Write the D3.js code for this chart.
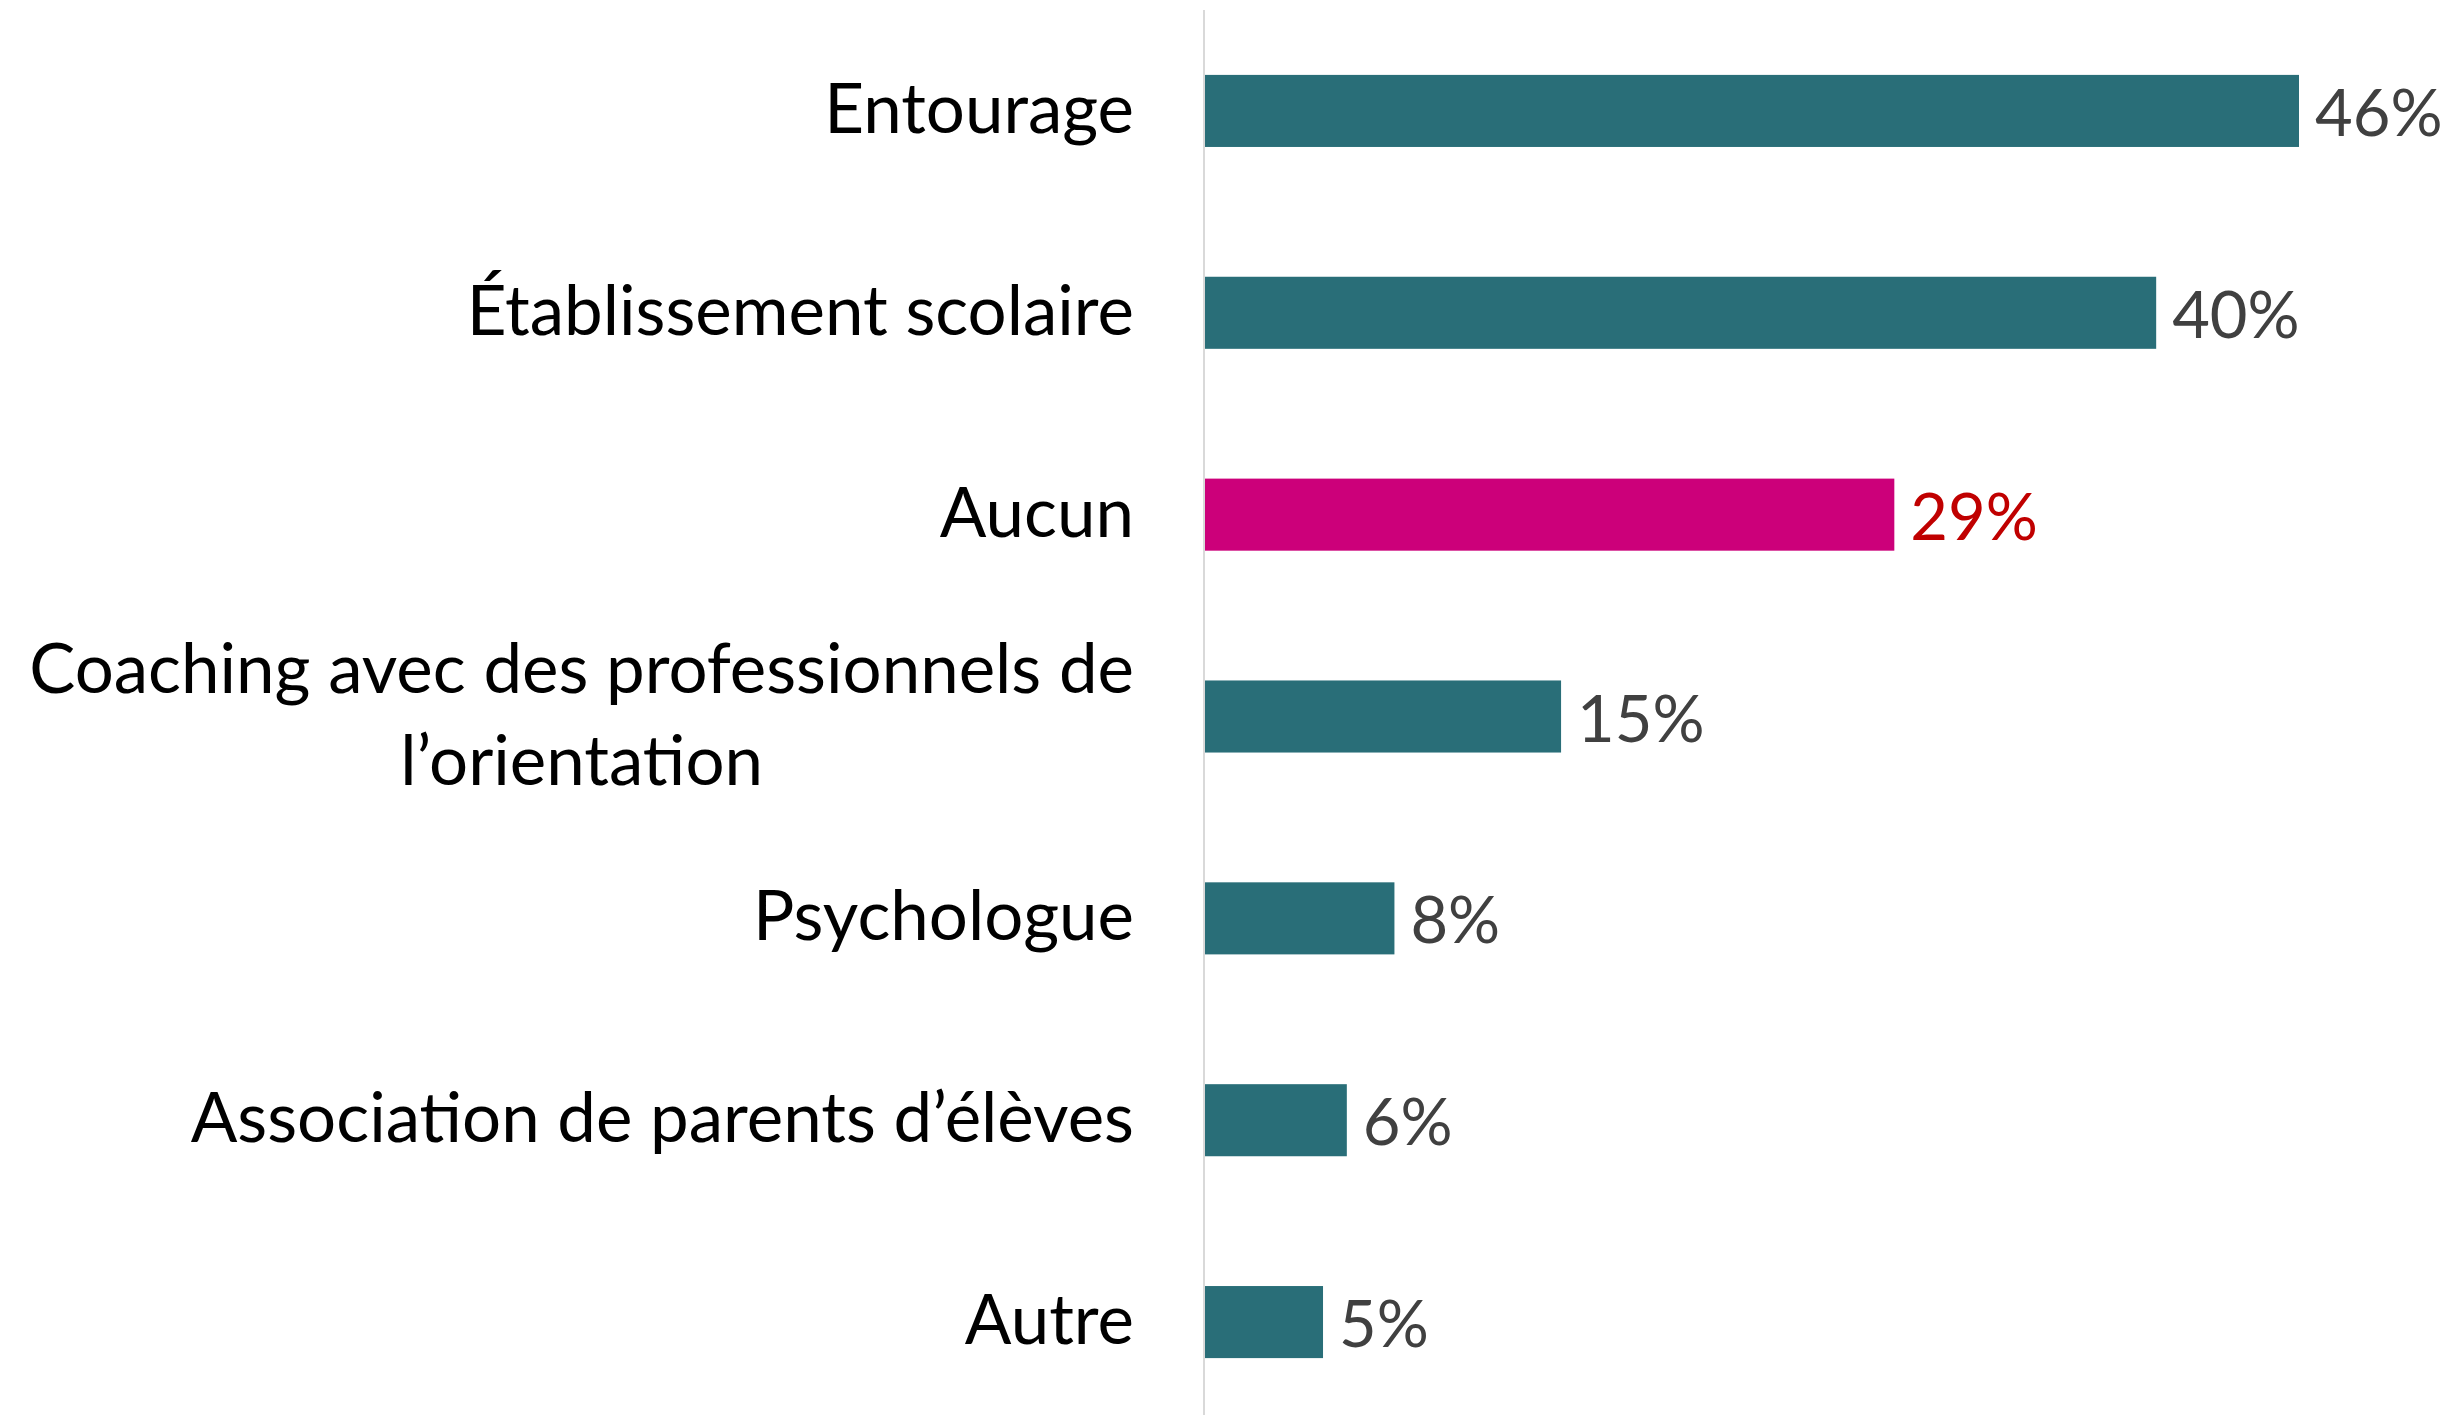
<!DOCTYPE html>
<html>
<head>
<meta charset="utf-8">
<script src="https://cdn.jsdelivr.net/npm/d3@7"></script>
<style>
	body { margin: 0; background: #fff; }
	svg text { font-family: Lato, "Open Sans", sans-serif; }
</style>
</head>
<body>
<div id="chart"></div>
<script>
// Chart data
var categories = ['Entourage', 'Établissement scolaire', 'Aucun', 'Coaching avec des professionnels de\nl’orientation', 'Psychologue', 'Association de parents d’élèves', 'Autre'];
var values = [46, 40, 29, 15, 8, 6, 5];
var highlighted = ['Aucun'];

var width = 2454, height = 1415;
var axisX = 1204, labelRight = 1134;

var rows = categories.map((c, i) => ({ name: c, value: values[i] }));

var svg = d3.select('#chart').append('svg')
	.attr('width', width).attr('height', height);

// Scales
var x = d3.scaleLinear().domain([0, 46]).range([axisX, 2299]);
var y = d3.scaleBand().domain(categories).range([10, 1423]).paddingInner(0.643).paddingOuter(0.3215);

// Vertical axis line
svg.append('line')
	.attr('x1', axisX).attr('x2', axisX).attr('y1', 10).attr('y2', height)
	.style('stroke', '#d9d9d9').style('stroke-width', 2);

// Bars
svg.selectAll('rect.bar').data(rows).enter().append('rect')
	.attr('class', 'bar')
	.attr('x', x(0) + 1).attr('y', d => y(d.name))
	.attr('width', d => x(d.value) - x(0) - 1).attr('height', y.bandwidth())
	.style('fill', d => highlighted.includes(d.name) ? '#cc007a' : '#296e78');

// Value labels
svg.selectAll('text.value').data(rows).enter().append('text')
	.attr('class', 'value')
	.attr('x', d => x(d.value) + 16).attr('y', d => y(d.name) + y.bandwidth() / 2 + 25)
	.style('font-size', '65px')
	.style('fill', d => highlighted.includes(d.name) ? '#c00000' : '#404040')
	.text(d => d.value + '%');

// Category labels (multi-line ones are centred in their block)
svg.selectAll('g.label').data(rows).enter().append('g')
	.attr('class', 'label')
	.each(function(d) {
		var g = d3.select(this);
		var lines = d.name.split('\n');
		var cy = y(d.name) + y.bandwidth() / 2;
		var texts = lines.map((l, i) => g.append('text')
			.attr('y', cy + 22 + (i - (lines.length - 1) / 2) * 92)
			.style('font-size', '69px').style('fill', '#000')
			.text(l));
		if (lines.length == 1) {
			texts[0].attr('x', labelRight).attr('text-anchor', 'end');
		} else {
			var w = d3.max(texts.map(t => t.node().getComputedTextLength()));
			texts.forEach(t => t.attr('x', labelRight - w / 2).attr('text-anchor', 'middle'));
		}
	});
</script>
</body>
</html>
